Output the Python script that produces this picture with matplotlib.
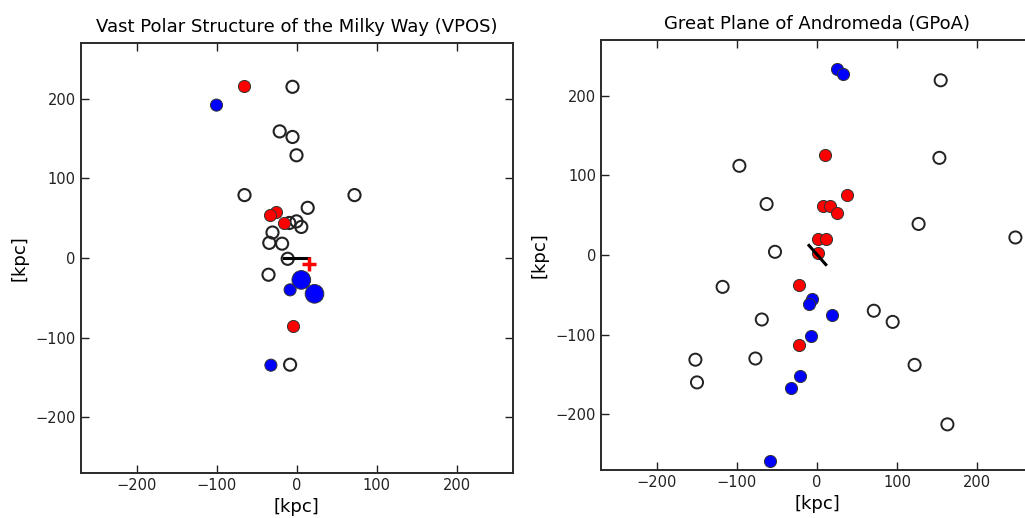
import matplotlib
matplotlib.use("Agg")
import matplotlib.pyplot as plt

# Milky Way satellites (VPOS), projected positions in kpc
mw_open_x = [-5, -21, -5, 0, -65, 72.5, 14, -9, 0, 6, -30, -34, -18, -11, -35, -8]
mw_open_y = [215, 159, 152, 129, 79, 79, 63, 44, 46, 39, 32, 19, 18, -1, -21, -134]
mw_red_x = [-66, -26, -33, -16, -5]
mw_red_y = [216, 58, 54, 44, -85]
mw_blue_x = [-100, -32, -8, 6, 22.5]
mw_blue_y = [192, -134.6, -40, -27.5, -45]
mw_blue_big = [False, False, False, True, True]
mw_normal_x = [-16, 15]
mw_normal_y = [0, 0]
mw_sun = (15, -7.5)

# Andromeda satellites (GPoA)
m31_open_x = [154.6, 153, -97, -63, 127, 248, -52.5, -118, 71, 94.6, -69, -152, -77, 122, -150, 163]
m31_open_y = [219.4, 122, 112, 64, 39, 22, 4, -40, -70, -84, -81, -131.5, -130, -138, -160, -212.7]
m31_red_x = [10, 38, 7, 16, 25, 1.7, 11, 1, -23, -22]
m31_red_y = [126, 75, 62, 62, 53, 20.5, 20.5, 3, -37.6, -113]
m31_blue_x = [24.6, 32, -6.7, -9.6, 19, -7.5, -21, -32, -59]
m31_blue_y = [233, 227, -55.5, -61.7, -75, -102, -152, -167, -259]
m31_normal_x = [-10, 11]
m31_normal_y = [12, -12]

ticks = [-200, -100, 0, 100, 200]
lim = (-270, 270)


def style_axes(ax, title):
    ax.set_xlim(lim)
    ax.set_ylim(lim)
    ax.set_xticks(ticks)
    ax.set_yticks(ticks)
    ax.tick_params(direction='in', top=True, right=True, length=5.5,
                   width=1, labelsize=10.5, colors='#222222')
    for sp in ax.spines.values():
        sp.set_linewidth(1.4)
        sp.set_color('#2a2a2a')
    ax.set_title(title, fontsize=13, pad=8)
    ax.set_xlabel('[kpc]', fontsize=13, labelpad=4)
    ax.set_ylabel('[kpc]', fontsize=13, labelpad=5)


fig = plt.figure(figsize=(10.25, 5.18), dpi=100)
fig.patch.set_facecolor('white')

ax1 = fig.add_axes([80.5 / 1025, 45 / 518, 432 / 1025, 430 / 518])
ax2 = fig.add_axes([601 / 1025, 48 / 518, 432 / 1025, 430 / 518])

small, big = 76, 180

# left panel
ax1.scatter(mw_open_x, mw_open_y, s=small, facecolors='none',
            edgecolors='#222222', linewidths=1.5, zorder=2)
ax1.scatter(mw_red_x, mw_red_y, s=small, c='#ff0000',
            edgecolors='#333333', linewidths=0.7, zorder=3)
ax1.scatter(mw_blue_x, mw_blue_y, c='#0000ff',
            s=[big if b else small for b in mw_blue_big],
            edgecolors='#333333', linewidths=0.7, zorder=3)
ax1.plot(mw_normal_x, mw_normal_y, color='black', lw=2.2, zorder=4)
ax1.plot(*mw_sun, marker='+', color='#ff0000', ms=10, mew=2.5, zorder=5)
style_axes(ax1, 'Vast Polar Structure of the Milky Way (VPOS)')

# right panel
ax2.scatter(m31_open_x, m31_open_y, s=small, facecolors='none',
            edgecolors='#222222', linewidths=1.4, zorder=2)
ax2.scatter(m31_red_x, m31_red_y, s=small, c='#ff0000',
            edgecolors='#333333', linewidths=0.7, zorder=3)
ax2.scatter(m31_blue_x, m31_blue_y, s=small, c='#0000ff',
            edgecolors='#333333', linewidths=0.7, zorder=3)
ax2.plot(m31_normal_x, m31_normal_y, color='black', lw=2.2, zorder=4)
style_axes(ax2, 'Great Plane of Andromeda (GPoA)')

fig.savefig('out.png', dpi=100)
